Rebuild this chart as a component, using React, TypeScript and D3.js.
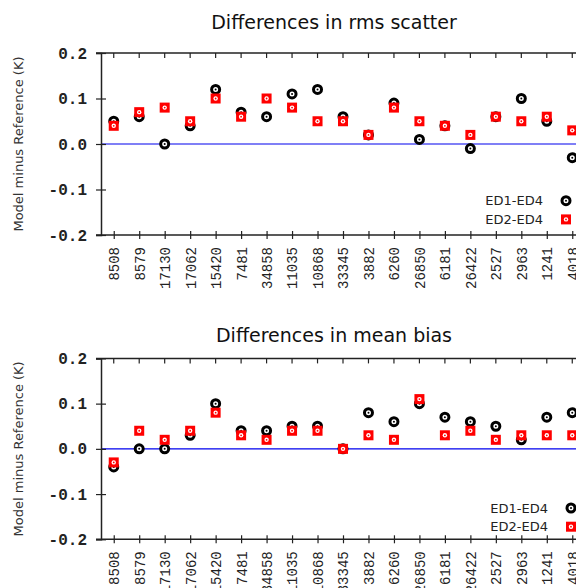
import React, { useRef, useEffect } from 'react';
import * as d3 from 'd3';

const stations = ['8508', '8579', '17130', '17062', '15420', '7481', '34858', '11035', '10868',
  '33345', '3882', '6260', '26850', '6181', '26422', '2527', '2963', '1241', '4018'];

const rmsEd1 = [0.05, 0.06, 0.0, 0.04, 0.12, 0.07, 0.06, 0.11, 0.12, 0.06, 0.02, 0.09, 0.01, 0.04, -0.01, 0.06, 0.10, 0.05, -0.03];
const rmsEd2 = [0.04, 0.07, 0.08, 0.05, 0.10, 0.06, 0.10, 0.08, 0.05, 0.05, 0.02, 0.08, 0.05, 0.04, 0.02, 0.06, 0.05, 0.06, 0.03];

const biasEd1 = [-0.04, 0.0, 0.0, 0.03, 0.10, 0.04, 0.04, 0.05, 0.05, 0.0, 0.08, 0.06, 0.10, 0.07, 0.06, 0.05, 0.02, 0.07, 0.08];
const biasEd2 = [-0.03, 0.04, 0.02, 0.04, 0.08, 0.03, 0.02, 0.04, 0.04, 0.0, 0.03, 0.02, 0.11, 0.03, 0.04, 0.02, 0.03, 0.03, 0.03];

const yTicks = [-0.2, -0.1, 0.0, 0.1, 0.2];
const seriesNames = ['ED1-ED4', 'ED2-ED4'];

const W = 576, H = 588;
const left = 101, right = 585;

// one panel of the figure
function drawPanel(svg, opts) {
  const { title, titleY, top, bottom, ed1, ed2, legendX, legendY } = opts;
  const g = svg.append('g');

  const x = d3.scalePoint().domain(stations).range([left, right]).padding(0.5);
  const y = d3.scaleLinear().domain([-0.2, 0.2]).range([bottom, top]);

  g.append('text')
    .attr('x', 334).attr('y', titleY)
    .attr('text-anchor', 'middle')
    .style('font-family', 'DejaVu Sans')
    .style('font-size', '19px')
    .attr('fill', '#111')
    .text(title);

  // y axis title
  g.append('text')
    .attr('transform', 'translate(23,' + y(0) + ') rotate(-90)')
    .attr('text-anchor', 'middle')
    .style('font-family', 'DejaVu Sans')
    .style('font-size', '13px')
    .attr('fill', '#333')
    .text('Model minus Reference (K)');

  // zero line
  g.append('line')
    .attr('x1', left).attr('x2', W)
    .attr('y1', y(0)).attr('y2', y(0))
    .attr('stroke', '#0000ee').attr('stroke-width', 1.2);

  // top frame with ticks
  g.append('line')
    .attr('x1', left - 5).attr('x2', W)
    .attr('y1', top).attr('y2', top)
    .attr('stroke', '#222').attr('stroke-width', 1.5);
  g.selectAll('.topTick').data(stations).enter().append('line')
    .attr('x1', d => x(d)).attr('x2', d => x(d))
    .attr('y1', top).attr('y2', top + 5)
    .attr('stroke', '#222').attr('stroke-width', 1.2);

  // y axis
  const ya = g.append('g')
    .attr('transform', 'translate(' + left + ',0)')
    .call(d3.axisLeft(y).tickValues(yTicks).tickFormat(d => d.toFixed(1)).tickSize(5).tickPadding(9));
  ya.select('.domain').attr('stroke', '#222').attr('stroke-width', 1.5);
  ya.selectAll('.tick line').attr('x1', 5).attr('stroke', '#222').attr('stroke-width', 1.2);
  ya.selectAll('.tick text')
    .style('font-family', 'Liberation Mono')
    .style('font-size', '16px')
    .style('font-weight', 'bold')
    .attr('fill', '#222');

  // x axis
  const xa = g.append('g')
    .attr('transform', 'translate(0,' + bottom + ')')
    .call(d3.axisBottom(x).tickSize(4).tickSizeOuter(0));
  xa.select('.domain').attr('stroke', '#222').attr('stroke-width', 1.5)
    .attr('d', 'M' + (left - 5) + ',0H' + W);
  xa.selectAll('.tick line').attr('y1', -4).attr('stroke', '#222').attr('stroke-width', 1.2);
  xa.selectAll('.tick text')
    .attr('transform', 'rotate(-90)')
    .attr('x', -12).attr('y', 0)
    .attr('dy', '0.35em')
    .attr('text-anchor', 'end')
    .style('font-family', 'Liberation Mono')
    .style('font-size', '14px')
    .attr('fill', '#222');

  const drawCircle = (sel) => {
    sel.append('circle').attr('r', 4).attr('fill', 'white').attr('stroke', 'black').attr('stroke-width', 3);
    sel.append('circle').attr('r', 1).attr('fill', 'black');
  };
  const drawSquare = (sel) => {
    sel.append('rect').attr('x', -5).attr('y', -5).attr('width', 10).attr('height', 10).attr('fill', '#ff0000');
    sel.append('circle').attr('r', 2.2).attr('fill', 'white');
    sel.append('circle').attr('r', 0.9).attr('fill', '#ff0000');
  };

  g.selectAll('.ed1').data(ed1).enter().append('g')
    .attr('transform', (d, i) => 'translate(' + x(stations[i]) + ',' + y(d) + ')')
    .call(drawCircle);
  g.selectAll('.ed2').data(ed2).enter().append('g')
    .attr('transform', (d, i) => 'translate(' + x(stations[i]) + ',' + y(d) + ')')
    .call(drawSquare);

  // legend
  seriesNames.forEach((name, i) => {
    const ly = legendY + i * 18.7;
    g.append('text')
      .attr('x', legendX - 23).attr('y', ly + 4.5)
      .attr('text-anchor', 'end')
      .style('font-family', 'DejaVu Sans')
      .style('font-size', '13px')
      .attr('fill', '#222')
      .text(name);
    const m = g.append('g').attr('transform', 'translate(' + legendX + ',' + ly + ')');
    if (i === 0) drawCircle(m); else drawSquare(m);
  });
}

const App = () => {
  const ref = useRef(null);

  useEffect(() => {
    const svg = d3.select(ref.current);
    svg.selectAll('*').remove();
    drawPanel(svg, {
      title: 'Differences in rms scatter', titleY: 29,
      top: 53, bottom: 235, ed1: rmsEd1, ed2: rmsEd2,
      legendX: 566, legendY: 200.7,
    });
    drawPanel(svg, {
      title: 'Differences in mean bias', titleY: 341.5,
      top: 358.4, bottom: 539.3, ed1: biasEd1, ed2: biasEd2,
      legendX: 571, legendY: 508,
    });
  });

  return (
    <svg ref={ref} width={W} height={H}
      style={{ position: 'absolute', left: 0, top: 0, background: 'white', overflow: 'hidden' }} />
  );
};

export default App;
